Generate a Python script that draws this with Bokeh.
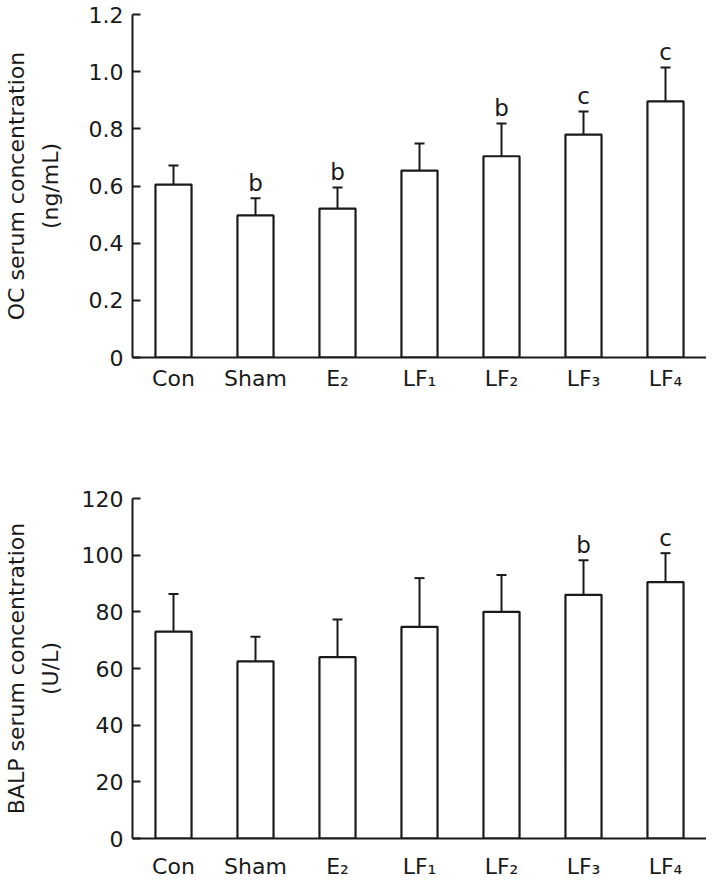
from bokeh.plotting import figure
from bokeh.models import FactorRange, Range1d, ColumnDataSource, FixedTicker
from bokeh.layouts import column
from bokeh.embed import file_html
from bokeh.resources import INLINE
from bokeh.core.properties import value

categories = ["Con", "Sham", "E₂", "LF₁", "LF₂", "LF₃", "LF₄"]

oc_mean = [0.605, 0.497, 0.521, 0.654, 0.704, 0.780, 0.896]
oc_sd = [0.067, 0.060, 0.074, 0.095, 0.115, 0.081, 0.119]
oc_sig = ["", "b", "b", "", "b", "c", "c"]
oc_ticks = [0, 0.2, 0.4, 0.6, 0.8, 1.0, 1.2]
oc_tick_labels = ["0", "0.2", "0.4", "0.6", "0.8", "1.0", "1.2"]

balp_mean = [73.0, 62.5, 64.0, 74.7, 80.0, 86.0, 90.5]
balp_sd = [13.3, 8.7, 13.3, 17.2, 13.0, 12.2, 10.2]
balp_sig = ["", "", "", "", "", "b", "c"]
balp_ticks = [0, 20, 40, 60, 80, 100, 120]
balp_tick_labels = ["0", "20", "40", "60", "80", "100", "120"]

FONT = "DejaVu Sans"
INK = "#1a1a1a"
FS = "22px"


def make_fig(mean, sd, sig, ticks, tick_labels, label, height, b_top, b_bottom,
             label_standoff, x_standoff):
    upper = [m + s for m, s in zip(mean, sd)]
    src = ColumnDataSource(dict(cat=categories, mean=mean, upper=upper, sig=sig))
    p = figure(
        x_range=FactorRange(factors=categories),
        y_range=Range1d(ticks[0], ticks[-1]),
        width=706, height=height,
        output_backend="svg", toolbar_location=None,
        min_border_left=132, min_border_right=0,
        min_border_top=b_top, min_border_bottom=b_bottom,
    )
    p.background_fill_color = "white"
    p.border_fill_color = "white"
    p.outline_line_color = None
    p.xgrid.grid_line_color = None
    p.ygrid.grid_line_color = None

    p.vbar(x="cat", top="mean", bottom=0, width=0.44, source=src,
           fill_color="white", line_color=INK, line_width=2.2)
    p.segment(x0="cat", y0="mean", x1="cat", y1="upper", source=src,
              line_color=INK, line_width=2)
    p.scatter(x="cat", y="upper", source=src, marker="dash", size=10,
              line_color=INK, line_width=2)
    p.text(x="cat", y="upper", text="sig", source=src, text_align="center",
           text_baseline="alphabetic", y_offset=-15,
           text_font=value(FONT), text_font_size="23px", text_color=INK)

    ya = p.yaxis[0]
    ya.ticker = FixedTicker(ticks=ticks)
    ya.major_label_overrides = {t: s for t, s in zip(ticks, tick_labels)}
    ya.major_tick_in = 8
    ya.major_tick_out = 0
    ya.minor_tick_line_color = None
    ya.axis_line_width = 2
    ya.axis_line_color = INK
    ya.major_tick_line_width = 2
    ya.major_tick_line_color = INK
    ya.major_label_standoff = 9
    ya.major_label_text_font = FONT
    ya.major_label_text_font_size = FS
    ya.major_label_text_color = INK
    ya.axis_label = label
    ya.axis_label_text_font = FONT
    ya.axis_label_text_font_size = FS
    ya.axis_label_text_font_style = "normal"
    ya.axis_label_text_color = INK
    ya.axis_label_text_line_height = 1.35
    ya.axis_label_standoff = label_standoff

    xa = p.xaxis[0]
    xa.major_tick_in = 0
    xa.major_tick_out = 0
    xa.minor_tick_line_color = None
    xa.axis_line_width = 2
    xa.axis_line_color = INK
    xa.major_label_standoff = x_standoff
    xa.major_label_text_font = FONT
    xa.major_label_text_font_size = FS
    xa.major_label_text_color = INK
    return p


p1 = make_fig(oc_mean, oc_sd, oc_sig, oc_ticks, oc_tick_labels,
              "OC serum concentration\n(ng/mL)", 440, 14, 83, 23, 8)
p2 = make_fig(balp_mean, balp_sd, balp_sig, balp_ticks, balp_tick_labels,
              "BALP serum concentration\n(U/L)", 441, 58, 41, 16, 15)

layout = column(p1, p2, spacing=0)
open("out.html", "w").write(file_html(layout, INLINE))
